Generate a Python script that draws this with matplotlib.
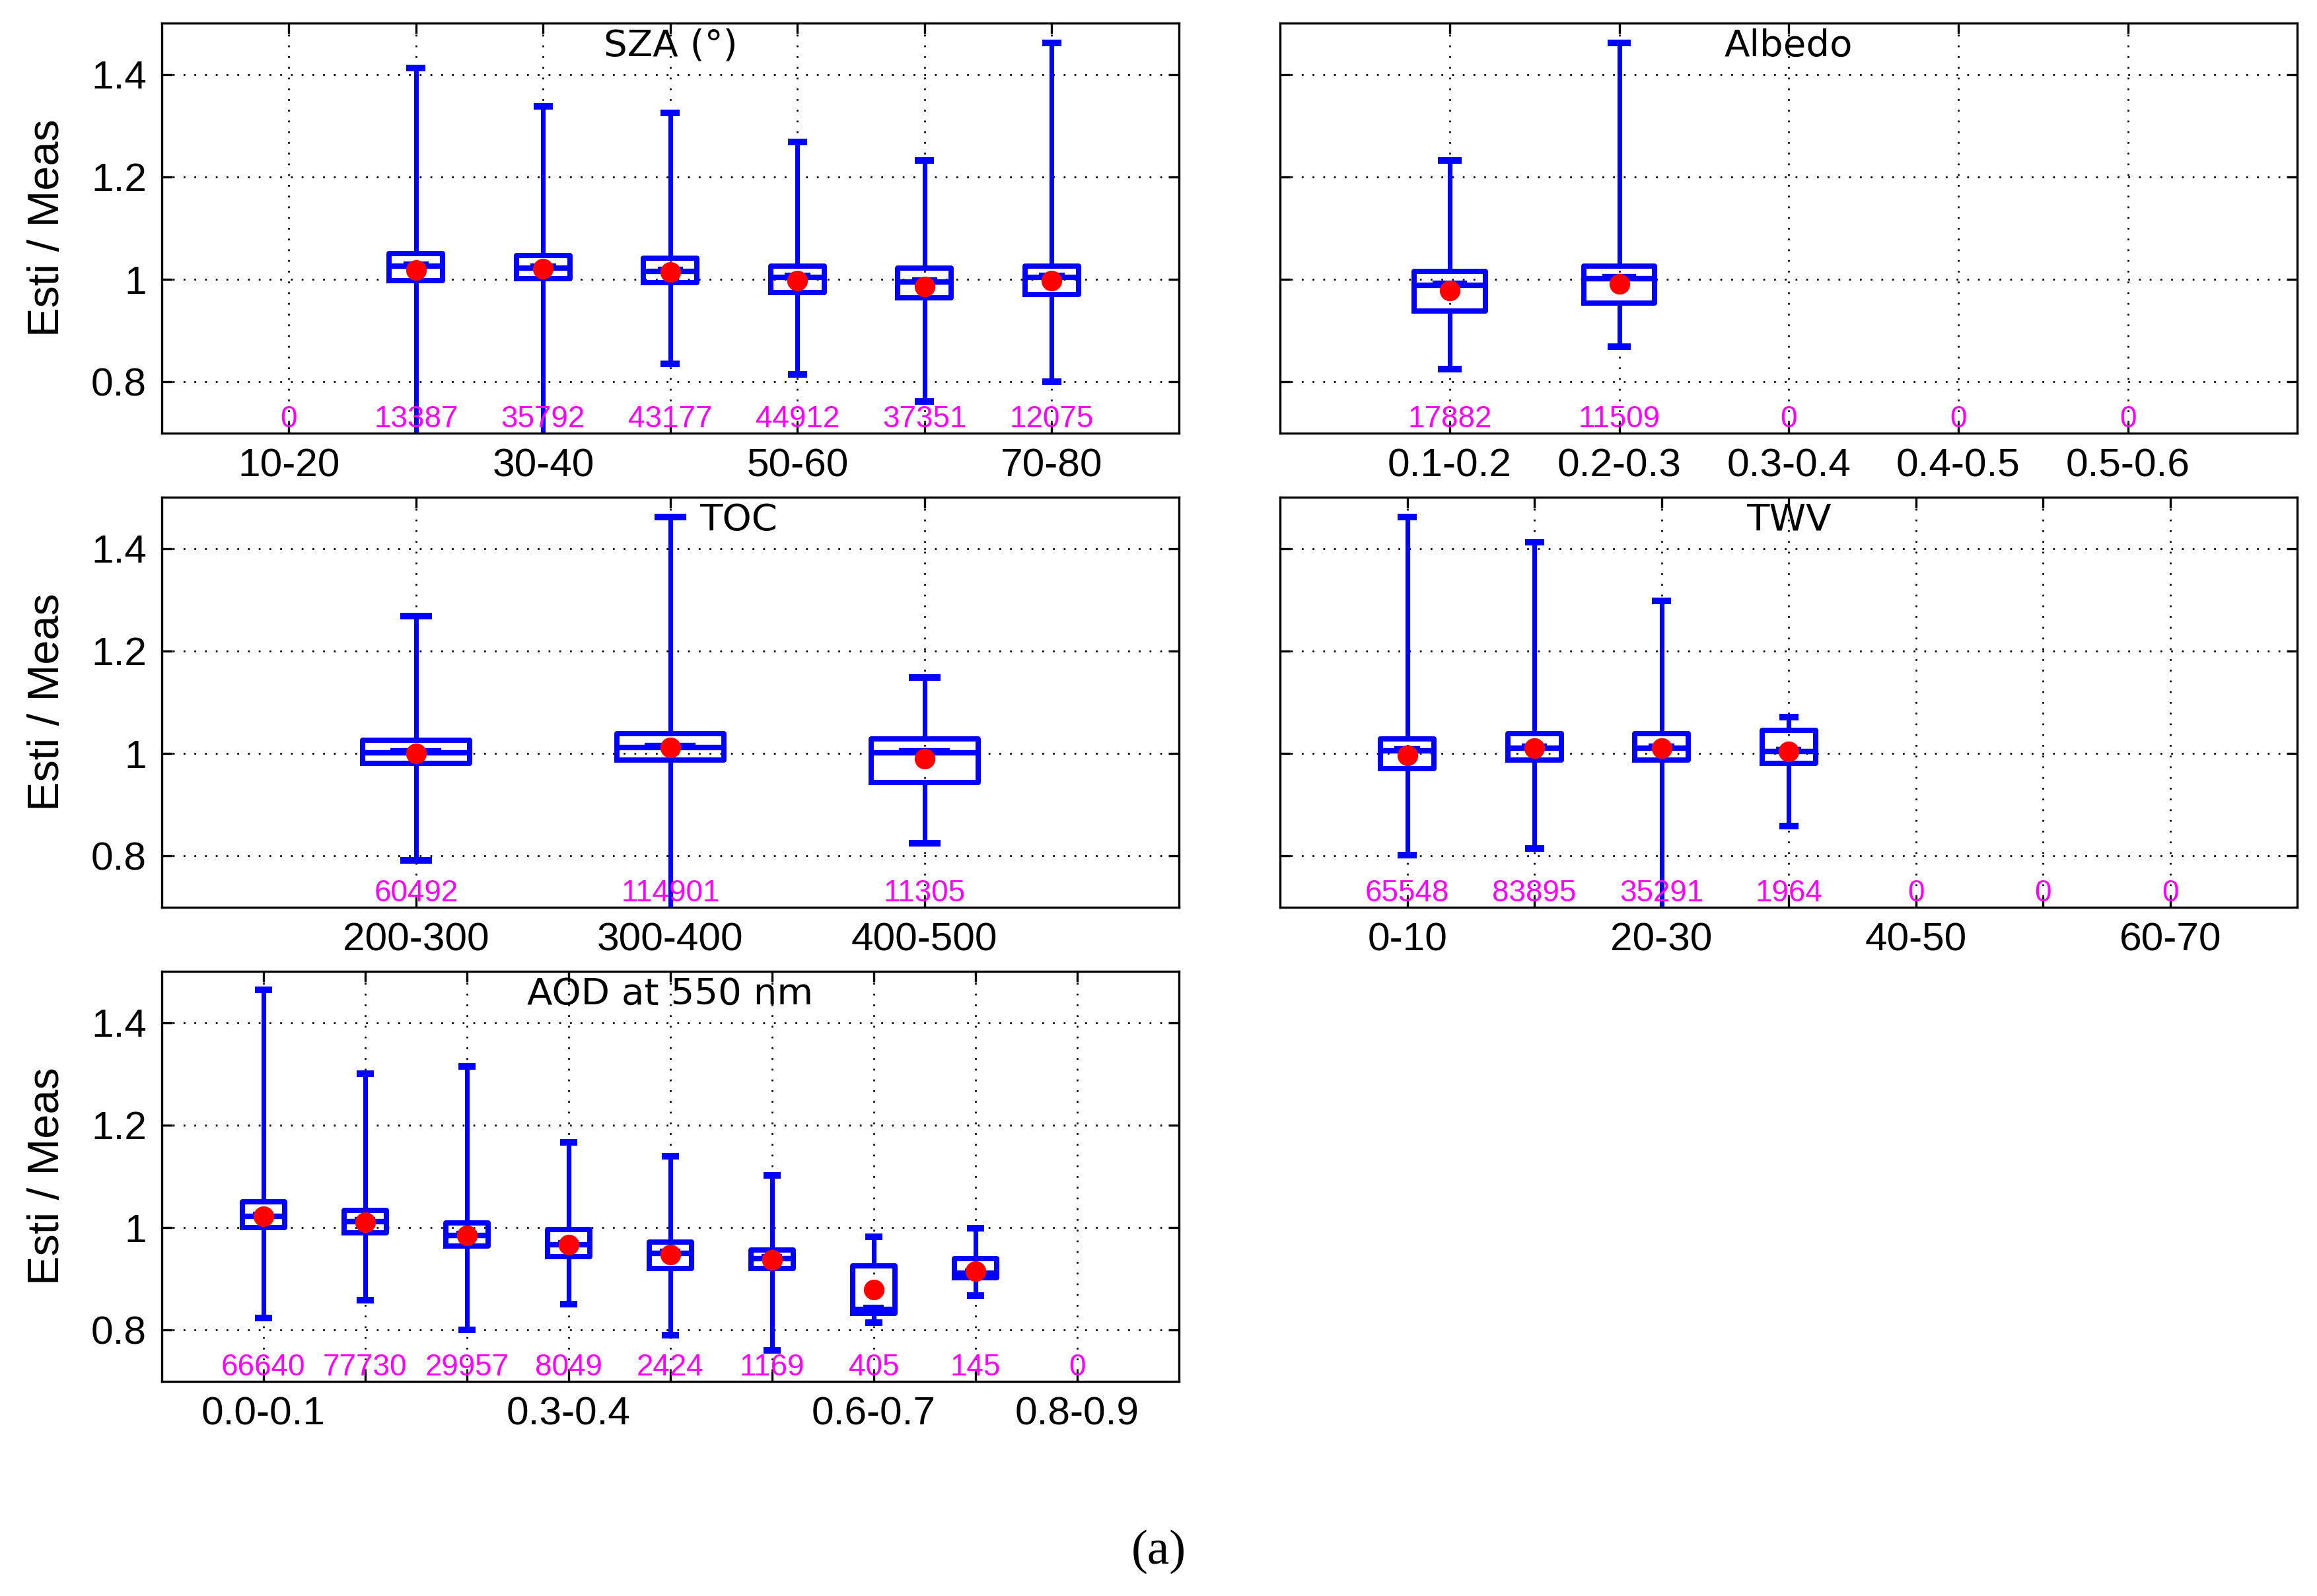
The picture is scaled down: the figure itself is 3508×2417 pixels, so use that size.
import matplotlib
matplotlib.use("Agg")
import matplotlib.pyplot as plt
import numpy as np

plt.rcParams['font.family'] = ['Liberation Sans', 'DejaVu Sans']

# ---- data (ratio Esti / Meas) ----
sza_ticks = ['10-20', '', '30-40', '', '50-60', '', '70-80']
sza_counts = [0, 13387, 35792, 43177, 44912, 37351, 12075]
sza_lo = [np.nan, 0.60, 0.60, 0.835, 0.815, 0.762, 0.801]
sza_q1 = [np.nan, 0.997, 1.001, 0.994, 0.974, 0.964, 0.971]
sza_med = [np.nan, 1.026, 1.022, 1.016, 1.004, 0.995, 1.004]
sza_q3 = [np.nan, 1.050, 1.046, 1.042, 1.026, 1.022, 1.026]
sza_hi = [np.nan, 1.412, 1.338, 1.325, 1.268, 1.232, 1.462]
sza_mean = [np.nan, 1.018, 1.021, 1.014, 0.998, 0.986, 0.998]

alb_ticks = ['0.1-0.2', '0.2-0.3', '0.3-0.4', '0.4-0.5', '0.5-0.6']
alb_counts = [17882, 11509, 0, 0, 0]
alb_lo = [0.825, 0.869, np.nan, np.nan, np.nan]
alb_q1 = [0.938, 0.954, np.nan, np.nan, np.nan]
alb_med = [0.988, 1.001, np.nan, np.nan, np.nan]
alb_q3 = [1.016, 1.026, np.nan, np.nan, np.nan]
alb_hi = [1.232, 1.462, np.nan, np.nan, np.nan]
alb_mean = [0.978, 0.991, np.nan, np.nan, np.nan]

toc_ticks = ['200-300', '300-400', '400-500']
toc_counts = [60492, 114901, 11305]
toc_lo = [0.792, 0.60, 0.825]
toc_q1 = [0.981, 0.987, 0.944]
toc_med = [1.002, 1.012, 1.001]
toc_q3 = [1.026, 1.039, 1.029]
toc_hi = [1.268, 1.462, 1.148]
toc_mean = [1.000, 1.012, 0.990]

twv_ticks = ['0-10', '', '20-30', '', '40-50', '', '60-70']
twv_counts = [65548, 83895, 35291, 1964, 0, 0, 0]
twv_lo = [0.802, 0.815, 0.60, 0.858, np.nan, np.nan, np.nan]
twv_q1 = [0.971, 0.987, 0.987, 0.981, np.nan, np.nan, np.nan]
twv_med = [1.005, 1.011, 1.011, 1.004, np.nan, np.nan, np.nan]
twv_q3 = [1.029, 1.039, 1.039, 1.046, np.nan, np.nan, np.nan]
twv_hi = [1.462, 1.412, 1.298, 1.071, np.nan, np.nan, np.nan]
twv_mean = [0.997, 1.010, 1.010, 1.004, np.nan, np.nan, np.nan]

aod_ticks = ['0.0-0.1', '', '', '0.3-0.4', '', '', '0.6-0.7', '', '0.8-0.9']
aod_counts = [66640, 77730, 29957, 8049, 2424, 1169, 405, 145, 0]
aod_lo = [0.824, 0.858, 0.801, 0.851, 0.790, 0.760, 0.814, 0.868, np.nan]
aod_q1 = [1.000, 0.990, 0.964, 0.944, 0.920, 0.920, 0.833, 0.902, np.nan]
aod_med = [1.022, 1.012, 0.985, 0.966, 0.950, 0.940, 0.840, 0.911, np.nan]
aod_q3 = [1.050, 1.033, 1.009, 0.996, 0.972, 0.956, 0.926, 0.939, np.nan]
aod_hi = [1.464, 1.300, 1.314, 1.166, 1.139, 1.102, 0.982, 0.999, np.nan]
aod_mean = [1.022, 1.011, 0.984, 0.966, 0.947, 0.937, 0.879, 0.915, np.nan]

panels = [
    ("SZA (°)", sza_ticks, sza_counts, sza_lo, sza_q1, sza_med, sza_q3, sza_hi, sza_mean),
    ("Albedo", alb_ticks, alb_counts, alb_lo, alb_q1, alb_med, alb_q3, alb_hi, alb_mean),
    ("TOC", toc_ticks, toc_counts, toc_lo, toc_q1, toc_med, toc_q3, toc_hi, toc_mean),
    ("TWV", twv_ticks, twv_counts, twv_lo, twv_q1, twv_med, twv_q3, twv_hi, twv_mean),
    ("AOD at 550 nm", aod_ticks, aod_counts, aod_lo, aod_q1, aod_med, aod_q3, aod_hi, aod_mean),
]

# axes rectangles in figure fraction (left, bottom, width, height)
rects = [
    [0.0698, 0.7286, 0.439, 0.2569],
    [0.5525, 0.7286, 0.439, 0.2569],
    [0.0698, 0.4315, 0.439, 0.2569],
    [0.5525, 0.4315, 0.439, 0.2569],
    [0.0698, 0.1345, 0.439, 0.2569],
]
title_x = [0.5, 0.5, 0.567, 0.5, 0.5]

BLUE = '#0000ff'
fig = plt.figure(figsize=(3508 / 300, 2417 / 300), dpi=300)

for i, (title, ticks, counts, lo, q1, med, q3, hi, mean) in enumerate(panels):
    ax = fig.add_axes(rects[i])
    n = len(ticks)
    pos = np.arange(1, n + 1)

    stats = []
    bpos = []
    for k in range(n):
        if np.isnan(med[k]):
            continue
        stats.append(dict(med=med[k], q1=q1[k], q3=q3[k], whislo=lo[k],
                          whishi=hi[k], mean=mean[k], fliers=[]))
        bpos.append(pos[k])

    ax.bxp(stats, positions=bpos, widths=0.42, capwidths=0.1,
           showmeans=True, showfliers=False, manage_ticks=False,
           boxprops=dict(color=BLUE, lw=1.9),
           whiskerprops=dict(color=BLUE, lw=1.7, linestyle='-'),
           capprops=dict(color=BLUE, lw=2.4),
           medianprops=dict(color=BLUE, lw=2.0),
           meanprops=dict(marker='o', markerfacecolor='red',
                          markeredgecolor='red', markersize=6.5))
    # small raised segment on the median
    ax.hlines(np.array([med[k] for k in range(n) if not np.isnan(med[k])]) + 0.004,
              np.array(bpos) - 0.1, np.array(bpos) + 0.1, color=BLUE, lw=2.0)

    for k in range(n):
        ax.text(pos[k], 0.7116, str(counts[k]), color='#ff00ff', fontsize=11,
                ha='center', va='baseline')

    ax.set_xlim(0, n + 1)
    ax.set_ylim(0.7, 1.5)
    ax.set_xticks(pos)
    ax.set_xticklabels(ticks)
    ax.set_yticks([0.8, 1.0, 1.2, 1.4])
    if i % 2 == 0:
        ax.set_yticklabels(['0.8', '1', '1.2', '1.4'])
        ax.set_ylabel('Esti / Meas', fontsize=16,
                      family=['Liberation Sans Narrow', 'Liberation Sans'])
        ax.yaxis.set_label_coords(-0.092, 0.5)
    else:
        ax.set_yticklabels([])

    ax.grid(True, color='k', lw=0.65, linestyle=(0, (1, 5)))
    ax.set_axisbelow(True)
    ax.tick_params(direction='in', top=True, right=True, length=3.8,
                   width=0.8, labelsize=14.5, pad=5.5)
    for sp in ax.spines.values():
        sp.set_linewidth(0.8)

    ax.text(title_x[i], 0.92, title, transform=ax.transAxes, ha='center',
            va='baseline', fontsize=13.5, family='DejaVu Sans')

fig.text(0.5, 0.0277, '(a)', ha='center', va='center', fontsize=18,
         family=['Liberation Serif', 'DejaVu Serif'])

fig.savefig('out.png', dpi=300)
